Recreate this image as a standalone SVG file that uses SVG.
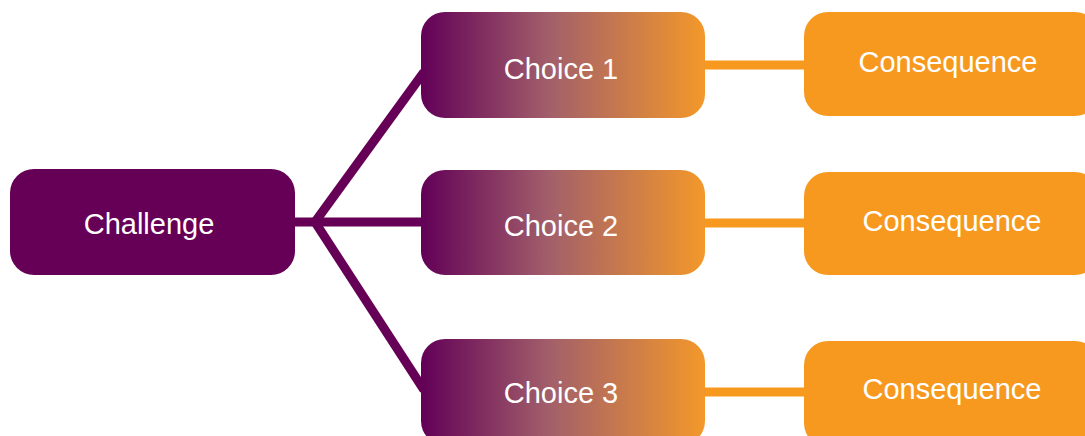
<svg xmlns="http://www.w3.org/2000/svg" width="1085" height="436" viewBox="0 0 1085 436">
<defs>
<linearGradient id="grad" x1="0" y1="0" x2="1" y2="0">
<stop offset="0" stop-color="#620057"/>
<stop offset="0.45" stop-color="#A25F6A"/>
<stop offset="1" stop-color="#F3982A"/>
</linearGradient>
<style>
.lbl{font-family:"Liberation Sans",Arial,sans-serif;font-size:29px;fill:#ffffff;text-anchor:middle}
.ch{fill:#660057}
.choice{fill:url(#grad)}
.cons{fill:#F7991F}
.pl{stroke:#660057;stroke-width:9;fill:none}
.ol{stroke:#F7991F;stroke-width:9;fill:none}
</style>
</defs>
<g id="connectors">
<line class="pl" x1="290" y1="222" x2="425" y2="222"/>
<line class="pl" x1="315" y1="222" x2="424" y2="72"/>
<line class="pl" x1="315" y1="222" x2="424" y2="390"/>
<line class="ol" x1="700" y1="65" x2="810" y2="65"/>
<line class="ol" x1="700" y1="223" x2="810" y2="223"/>
<line class="ol" x1="700" y1="392" x2="810" y2="392"/>
</g>
<g id="challenge">
<rect class="ch" x="10" y="169" width="285" height="106" rx="24"/>
<text class="lbl" x="149" y="234">Challenge</text>
</g>
<g id="choice1">
<rect class="choice" x="421" y="12" width="284" height="106" rx="24"/>
<text class="lbl" x="561" y="79">Choice 1</text>
</g>
<g id="choice2">
<rect class="choice" x="421" y="170" width="284" height="105" rx="24"/>
<text class="lbl" x="561" y="236">Choice 2</text>
</g>
<g id="choice3">
<rect class="choice" x="421" y="339" width="284" height="106" rx="24"/>
<text class="lbl" x="561" y="403">Choice 3</text>
</g>
<g id="consequence1">
<rect class="cons" x="804" y="12" width="295" height="104" rx="24"/>
<text class="lbl" x="948" y="72">Consequence</text>
</g>
<g id="consequence2">
<rect class="cons" x="804" y="172" width="295" height="103" rx="24"/>
<text class="lbl" x="952" y="231">Consequence</text>
</g>
<g id="consequence3">
<rect class="cons" x="804" y="341" width="295" height="106" rx="24"/>
<text class="lbl" x="952" y="399">Consequence</text>
</g>
</svg>
